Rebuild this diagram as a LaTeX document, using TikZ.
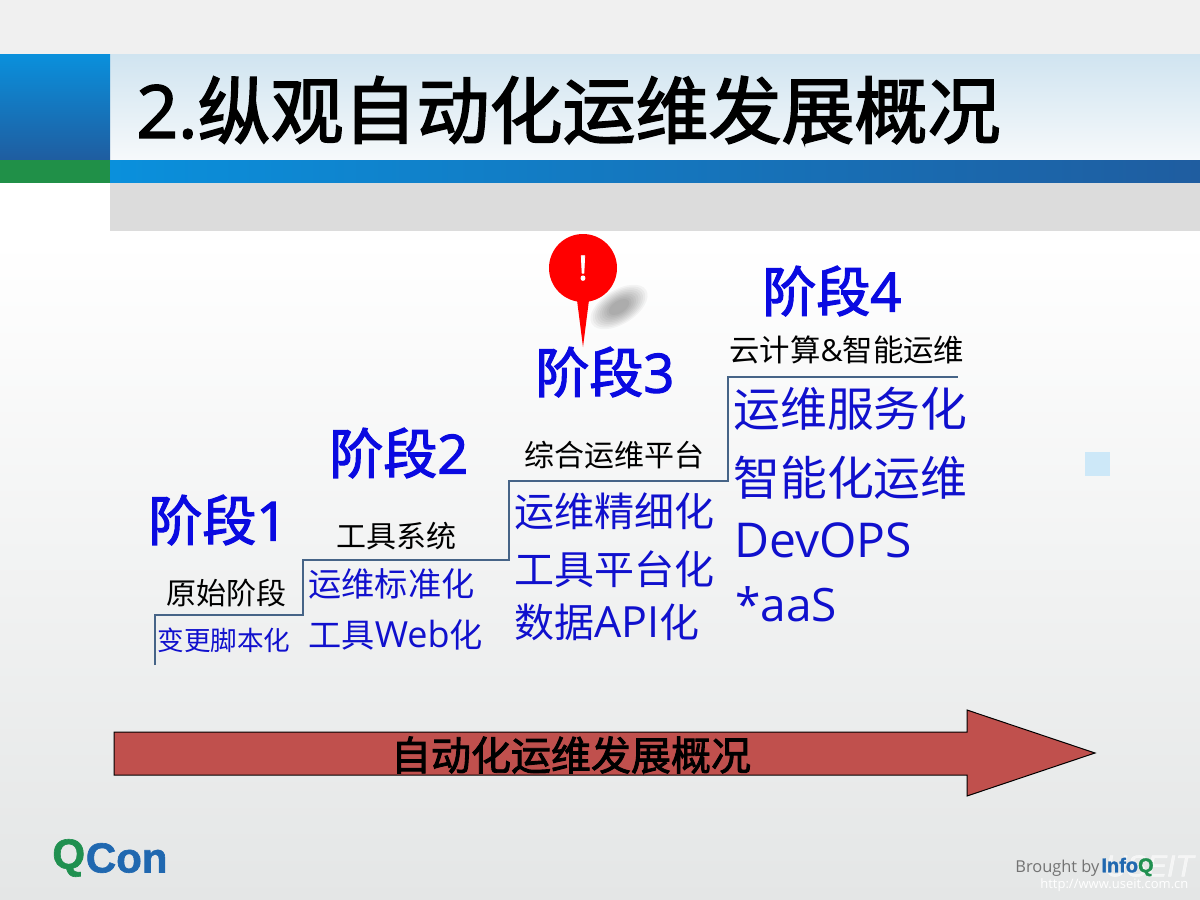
\documentclass[tikz,border=0pt]{standalone}
\usepackage{fontspec}
\setmainfont{Noto Sans CJK SC}
\newfontfamily\headfont[FakeBold=2.2]{Noto Sans CJK SC}
\newfontfamily\headlatin[FakeBold=2.2]{Open Sans}
\newfontfamily\logofont[FakeBold=1.5]{Liberation Sans}
\newfontfamily\footfont{Open Sans}
\definecolor{BarBlueA}{RGB}{10,144,220}
\definecolor{BarBlueB}{RGB}{31,93,160}
\definecolor{BarGreen}{RGB}{32,144,72}
\definecolor{BarGray}{RGB}{220,220,220}
\definecolor{TitleBgA}{RGB}{208,228,240}
\definecolor{TitleBgB}{RGB}{246,249,251}
\definecolor{PageBottom}{RGB}{228,230,230}
\definecolor{StageBlue}{RGB}{10,10,225}
\definecolor{ItemBlue}{RGB}{16,16,205}
\definecolor{StairColor}{RGB}{70,100,135}
\definecolor{ArrowRed}{RGB}{192,80,77}
\definecolor{MarkBlue}{RGB}{205,232,248}
\definecolor{QConBlue}{RGB}{32,104,176}
\definecolor{QConGreen}{RGB}{32,144,80}
\newcommand{\fsz}[1]{\fontsize{#1}{#1}\selectfont}
\begin{document}
\begin{tikzpicture}[x=0.5pt,y=-0.5pt,
  band/.style={draw=none},
  stage/.style={text=StageBlue,anchor=west,inner sep=0pt,font=\headfont\fsz{27}},
  phase/.style={text=black,anchor=west,inner sep=0pt,font=\fsz{#1}},
  item/.style={text=ItemBlue,anchor=west,inner sep=0pt,font=\fsz{#1}}]
\useasboundingbox (0,0) rectangle (1200,900);
\fill[white] (0,0) rectangle (1200,900);
\shade[band,top color=white,bottom color=PageBottom] (0,240) rectangle (1200,900);
\fill[black!6] (0,0) rectangle (1200,54);
\shade[band,top color=TitleBgA,bottom color=TitleBgB] (110,54) rectangle (1200,160);
\shade[band,top color=BarBlueA,bottom color=BarBlueB] (0,54) rectangle (110,160);
\fill[BarGreen] (0,160) rectangle (110,183);
\shade[band,left color=BarBlueA,right color=BarBlueB] (110,160) rectangle (1200,183);
\fill[BarGray] (110,183) rectangle (1200,231);
\node[anchor=west,inner sep=0pt,font=\headfont\fsz{36.5}] (title) at (136,110) {{\headlatin 2.}纵观自动化运维发展概况};
% pin
\foreach \r in {1,0.92,...,0.3} {
  \fill[black,opacity=0.04,rotate around={32:(619,307)}] (619,307) ellipse ({32*\r} and {17*\r});
}
\fill[red] (583,347) -- (577,300) -- (589,300) -- cycle;
\node[circle,fill=red,minimum size=34pt,inner sep=0pt,text=white,font=\headlatin\fsz{17}] (pin) at (583,268) {!};
\foreach \x/\y/\n in {148/520/1,329/453/2,535/372/3,762/291/4} {
  \node[stage] (stage\n) at (\x,\y) {阶段{\headlatin\n}};
}
\node[phase=15] (phase1) at (166,593) {原始阶段};
\node[phase=15] (phase2) at (336,536) {工具系统};
\node[phase=15] (phase3) at (524,455) {综合运维平台};
\node[phase=15.2] (phase4) at (729,350) {云计算{\footfont\&}智能运维};
\draw[StairColor,line width=0.8pt] (155,665) -- (155,615) -- (303,615) -- (303,560) -- (509,560) -- (509,481) -- (728,481) -- (728,377) -- (958,377);
\node[item=13.3] (item11) at (157,640) {变更脚本化};
\node[item=16.6] (item21) at (308,584) {运维标准化};
\node[item=16.6] (item22) at (308,635) {工具{\footfont\fsz{18}Web}化};
\node[item=20] (item31) at (514,511) {运维精细化};
\node[item=20] (item32) at (514,569) {工具平台化};
\node[item=20] (item33) at (514,622) {数据{\footfont\fsz{21.5}API}化};
\node[item=23.4] (item41) at (733,409) {运维服务化};
\node[item=23.4] (item42) at (733,478) {智能化运维};
\node[item=24,font=\footfont\fsz{24}] (item43) at (734,540) {DevOPS};
\node[item=23,font=\footfont\fsz{23}] (item44) at (735,604) {*aaS};
\fill[MarkBlue] (1085,452) rectangle (1110,476);
\draw[black,fill=ArrowRed,line width=0.5pt] (114,732) -- (967,732) -- (967,710) -- (1095,753) -- (967,796) -- (967,775) -- (114,775) -- cycle;
\node[inner sep=0pt,font=\headfont\fsz{20}] (arrowlabel) at (571,755) {自动化运维发展概况};
\node[anchor=west,inner sep=0pt,text=QConGreen,font=\logofont\bfseries\fsz{21}] (logoq) at (52,858) {Q};
\node[anchor=west,inner sep=0pt,text=QConBlue,font=\logofont\bfseries\fsz{21}] (logocon) at (logoq.east) {Con};
\node[anchor=west,inner sep=0pt,text=white,opacity=0.6,font=\logofont\itshape\fsz{15}] (useit) at (1105,866) {USEIT};
\node[anchor=west,inner sep=0pt,text=black!55,font=\footfont\fsz{8.2}] (brought) at (1015,868) {Brought by};
\node[anchor=west,inner sep=0pt,text=QConBlue,font=\logofont\bfseries\fsz{10}] (infoq) at (1101,867) {Info\textcolor{QConGreen}{Q}};
\node[anchor=west,inner sep=0pt,text=white,font=\footfont\fsz{6.5}] (url) at (1040,885) {http://www.useit.com.cn};
\end{tikzpicture}
\end{document}
